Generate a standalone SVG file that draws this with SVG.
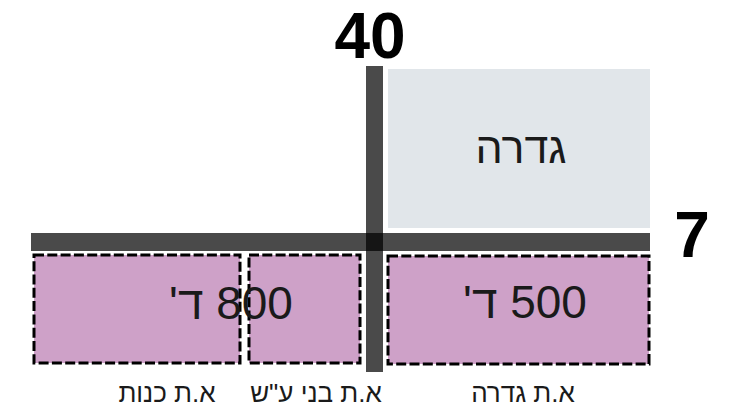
<svg xmlns="http://www.w3.org/2000/svg" width="729" height="411" viewBox="0 0 729 411">
<style>
.bar{fill:#000;fill-opacity:0.71}
.plot{fill:#cea1c8;stroke:#000;stroke-width:3;stroke-dasharray:10 3.3}
.t{font-family:"Liberation Sans",Arial,sans-serif;fill:#1a1a1a;text-anchor:middle}
.lbl{font-size:26px}
.big{font-family:"Liberation Sans",Arial,sans-serif;font-weight:bold;fill:#000;text-anchor:middle;font-size:64px}
</style>
<rect width="729" height="411" fill="#fff"/>
<g id="gedera">
<rect x="388" y="69" width="262" height="159" fill="#e1e6ea"/>
<text class="t" x="521" y="163" font-size="43" direction="rtl">גדרה</text>
</g>
<g id="plot-kanot">
<rect class="plot" x="34" y="255" width="206" height="108"/>
<text class="t lbl" x="167" y="402" direction="rtl">א.ת כנות</text>
</g>
<g id="plot-bnei-ayish">
<rect class="plot" x="249" y="255" width="111" height="108"/>
<text class="t lbl" x="316" y="402" direction="rtl">א.ת בני ע"ש</text>
</g>
<g id="plot-gedera">
<rect class="plot" x="388" y="256" width="261" height="108"/>
<text class="t lbl" x="523" y="402" direction="rtl">א.ת גדרה</text>
</g>
<g id="roads">
<rect class="bar" x="31" y="233" width="619" height="18"/>
<rect class="bar" x="366" y="66" width="17" height="306"/>
</g>
<g id="labels">
<text class="t" x="231" y="319" font-size="46" direction="rtl">800 ד'</text>
<text class="t" x="525" y="318" font-size="46" direction="rtl">500 ד'</text>
<text class="big" x="370" y="58">40</text>
<text class="big" x="692" y="257">7</text>
</g>
</svg>
